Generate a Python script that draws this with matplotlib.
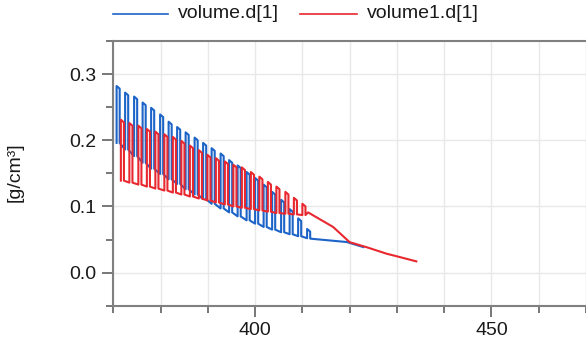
import matplotlib
matplotlib.use("Agg")
import matplotlib.pyplot as plt
from matplotlib.ticker import MultipleLocator, FixedLocator
from matplotlib.lines import Line2D

# ---- data ----
blue_t = [370.7, 372.5, 374.4, 376.2, 378.0, 379.9, 381.7, 383.5, 385.3, 387.2, 389.0, 390.8,
          392.7, 394.5, 396.3, 398.2, 400.0, 401.8, 403.6, 405.5, 407.3, 409.1, 411.0]
blue_hi = [0.282, 0.272, 0.266, 0.257, 0.249, 0.239, 0.228, 0.220, 0.212, 0.204, 0.196, 0.188,
           0.180, 0.170, 0.162, 0.152, 0.143, 0.133, 0.122, 0.110, 0.096, 0.082, 0.066]
blue_lo = [0.196, 0.186, 0.176, 0.166, 0.157, 0.149, 0.141, 0.134, 0.126, 0.118, 0.111, 0.104,
           0.097, 0.091, 0.085, 0.079, 0.074, 0.069, 0.065, 0.061, 0.058, 0.055, 0.052]
blue_tail_t = [411.7, 419.4, 422.9]
blue_tail_v = [0.0513, 0.0462, 0.0386]

red_t = [371.6, 373.4, 375.3, 377.1, 378.9, 380.8, 382.6, 384.4, 386.2, 388.1, 389.9, 391.7,
         393.6, 395.4, 397.2, 399.1, 400.9, 402.7, 404.5, 406.4, 408.2, 410.0]
red_hi = [0.231, 0.226, 0.222, 0.217, 0.213, 0.209, 0.205, 0.199, 0.192, 0.185, 0.178, 0.173,
          0.168, 0.163, 0.159, 0.152, 0.145, 0.137, 0.130, 0.122, 0.113, 0.104]
red_lo = [0.139, 0.136, 0.133, 0.130, 0.127, 0.124, 0.121, 0.118, 0.115, 0.112, 0.109, 0.106,
          0.103, 0.100, 0.098, 0.096, 0.094, 0.092, 0.090, 0.089, 0.088, 0.087]
red_tail_t = [411.2, 416.5, 420.0, 423.5, 427.8, 430.6, 434.1]
red_tail_v = [0.091, 0.069, 0.046, 0.0386, 0.0286, 0.0235, 0.017]

labels = ["volume.d[1]", "volume1.d[1]"]
x_range = (370, 470)
y_range = (-0.05, 0.35)

BLUE = "#1c64c8"
RED = "#e8282e"
PULSE = 0.65


def pulses(ts, his, los, tail_t, tail_v):
    xs, ys = [], []
    for t, h, l in zip(ts, his, los):
        xs += [t, t, t + PULSE, t + PULSE]
        ys += [l, h, h - 0.004, l]
    xs += tail_t
    ys += tail_v
    return xs, ys


plt.rcParams["font.family"] = ["Liberation Sans", "DejaVu Sans"]
fig = plt.figure(figsize=(5.86, 3.45), dpi=100)
ax = fig.add_axes([113.3 / 586, 39.3 / 345, 1 - 113.3 / 586, (304 - 39.3) / 345])

bx, by = pulses(blue_t, blue_hi, blue_lo, blue_tail_t, blue_tail_v)
rx, ry = pulses(red_t, red_hi, red_lo, red_tail_t, red_tail_v)
ax.plot(bx, by, color=BLUE, lw=1.5, zorder=3)
ax.plot(rx, ry, color=RED, lw=1.5, zorder=4)

ax.set_xlim(*x_range)
ax.set_ylim(*y_range)
ax.xaxis.set_major_locator(FixedLocator([400, 450]))
ax.xaxis.set_minor_locator(MultipleLocator(10))
ax.yaxis.set_major_locator(MultipleLocator(0.1))
ax.yaxis.set_minor_locator(MultipleLocator(0.05))
ax.yaxis.set_major_formatter(plt.FuncFormatter(lambda v, p: f"{v:.1f}"))
ax.grid(which="major", axis="y", color="#e8e8e8", lw=1.0)
ax.grid(which="both", axis="x", color="#e8e8e8", lw=1.0)
ax.set_axisbelow(True)

for s in ["left", "bottom", "top"]:
    ax.spines[s].set_color("#808080")
    ax.spines[s].set_linewidth(1.5)
ax.spines["right"].set_visible(False)
ax.tick_params(which="major", direction="out", length=8, width=1.2, color="#606060",
               labelsize=14, labelcolor="#1a1a1a", pad=4)
ax.tick_params(which="minor", direction="out", length=5, width=1.2, color="#606060")
ax.tick_params(axis="x", which="both", top=False)

fig.text(15 / 586, 1 - 172 / 345, "[g/cm³]", rotation=90, ha="center", va="center",
         fontsize=14, color="#1a1a1a")

# legend
ly = 1 - 14 / 345
fig.add_artist(Line2D([113 / 586, 168 / 586], [ly, ly], color=BLUE, lw=1.2))
fig.text(178 / 586, ly, labels[0], ha="left", va="center", fontsize=14, color="#1a1a1a")
fig.add_artist(Line2D([300 / 586, 357 / 586], [ly, ly], color=RED, lw=1.2))
fig.text(367 / 586, ly, labels[1], ha="left", va="center", fontsize=14, color="#1a1a1a")

fig.savefig("out.png", dpi=100)
